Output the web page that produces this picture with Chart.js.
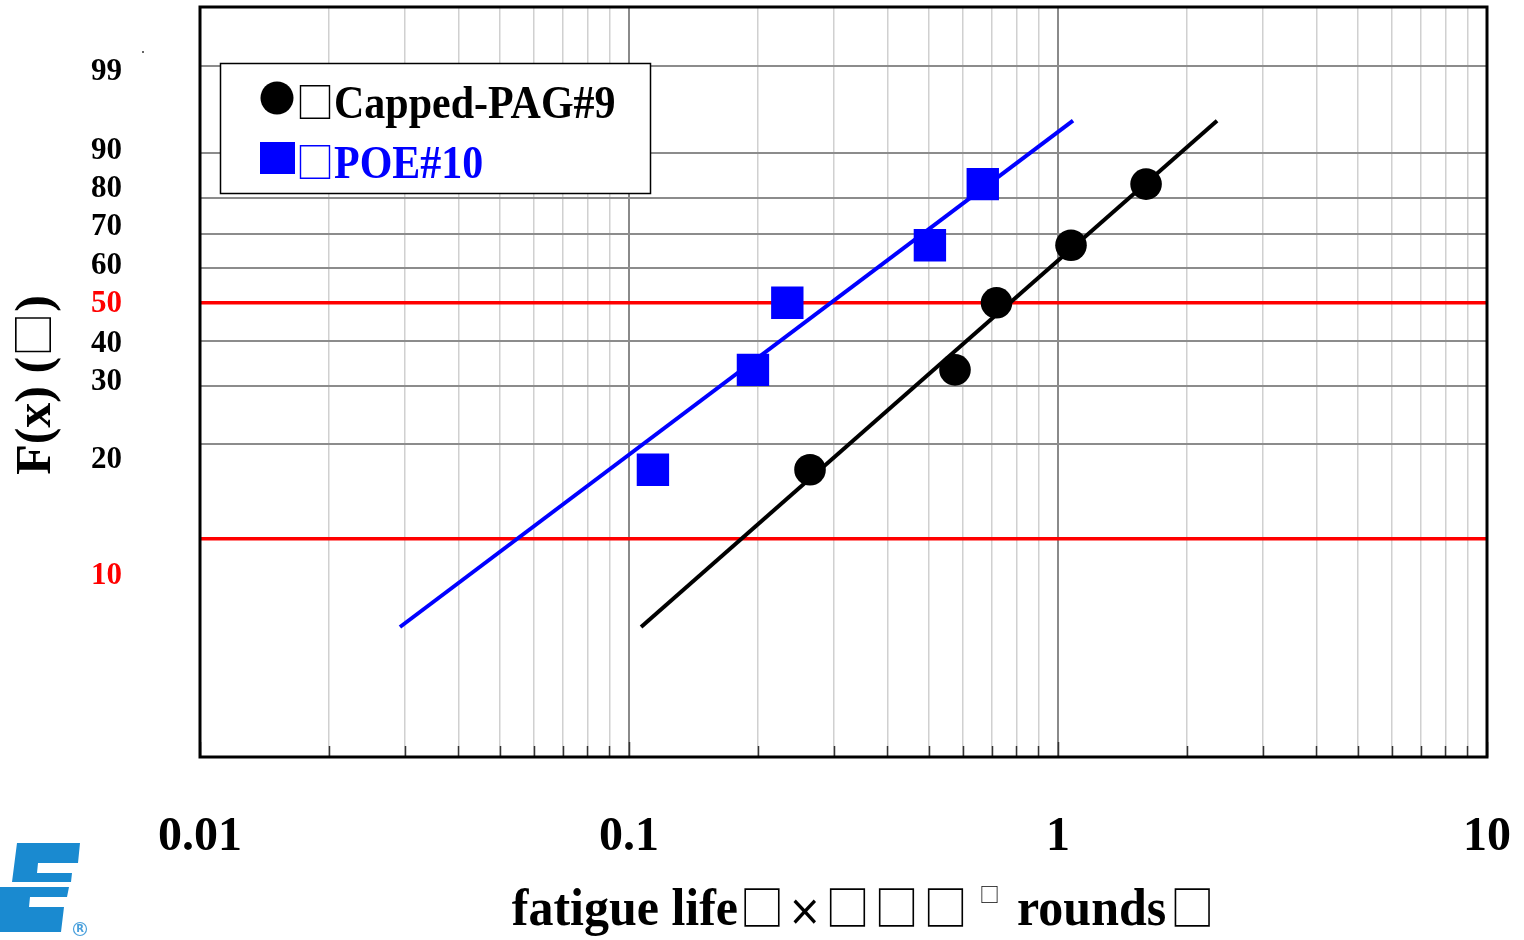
<!DOCTYPE html>
<html><head><meta charset="utf-8">
<script src="https://cdn.jsdelivr.net/npm/chart.js@4.4.0/dist/chart.umd.min.js"></script>
<style>html,body{margin:0;padding:0;background:#fff;}#wrap{width:1524px;height:940px;position:relative;}</style>
</head><body><div id="wrap"><canvas id="c" width="1524" height="940"></canvas></div>
<script>
// ---------- data ----------
const seriesNames = ['Capped-PAG#9', 'POE#10'];
const pagLife = [0.2642, 0.5753, 0.7189, 1.0723, 1.6043];   // fatigue life
const poeLife = [0.1137, 0.1945, 0.2339, 0.5028, 0.6678];
const failurePct = [16.67, 33.33, 50, 66.67, 83.33];         // F(x) %
const pagFitLife = [0.1067, 2.348];
const poeFitLife = [0.02925, 1.084];
const fitPct = [5.05, 94.9];
const yTickPct = [99, 90, 80, 70, 60, 50, 40, 30, 20, 10];
const yTickLabels = ['99', '90', '80', '70', '60', '50', '40', '30', '20', '10'];
const redPct = [50, 10];
const xDecades = [0.01, 0.1, 1, 10];
const xTickLabels = ['0.01', '0.1', '1', '10'];
const xTitleParts = ['fatigue life', '□', '×', '□', '□', '□', '□', ' rounds', '□'];
const yTitleParts = ['F(x) (', '□', ')'];

// ---------- layout constants ----------
const yLabelW = [1.48, 0.848, 0.544, 0.24, -0.072, -0.376, -0.696, -1.0, -1.62, -2.552];
const SERIF = "'Liberation Serif','Times New Roman',serif";
const BOXF = "'Noto Sans CJK SC','DejaVu Sans',sans-serif";

const wb = p => Math.log(-Math.log(1 - p / 100));
const isDecade = v => Math.abs(Math.log10(v) - Math.round(Math.log10(v))) < 1e-9;
const noPad = s => { s.paddingTop = 0; s.paddingBottom = 0; s.paddingLeft = 0; s.paddingRight = 0; };

const xTickVals = [];
xDecades.forEach((d, i) => {
  if (i < xDecades.length - 1) { for (let k = 1; k <= 9; k++) xTickVals.push(+(d * k).toPrecision(6)); }
  else xTickVals.push(d);
});

const framePlugin = {
  id: 'frame',
  afterDatasetsDraw(chart) {
    const {ctx, chartArea: a, scales} = chart;
    ctx.save();
    ctx.strokeStyle = '#333';
    ctx.lineWidth = 1.5;
    xTickVals.forEach(v => {
      const px = Math.round(scales.x.getPixelForValue(v)) + 0.5;
      const len = isDecade(v) ? 15 : 11;
      ctx.beginPath(); ctx.moveTo(px, a.bottom); ctx.lineTo(px, a.bottom - len); ctx.stroke();
    });
    ctx.strokeStyle = '#000';
    ctx.lineWidth = 3;
    ctx.strokeRect(a.left, a.top, a.right - a.left, a.bottom - a.top);
    ctx.restore();
  }
};

function drawRich(ctx, parts, x, y, sx, sy) {
  let cx = x;
  parts.forEach(p => {
    ctx.font = p.font;
    ctx.save();
    ctx.translate(cx * (sx || 1), y + (p.dy || 0));
    ctx.scale(sx || 1, sy || 1);
    ctx.fillText(p.t, 0, 0);
    ctx.restore();
    cx += ctx.measureText(p.t).width + (p.gap || 0);
  });
  return cx;
}
function richWidth(ctx, parts) {
  let w = 0;
  parts.forEach(p => { ctx.font = p.font; w += ctx.measureText(p.t).width + (p.gap || 0); });
  return w;
}

const overlayPlugin = {
  id: 'overlay',
  afterDraw(chart) {
    const {ctx} = chart;
    ctx.save();
    // legend
    ctx.fillStyle = '#fff';
    ctx.fillRect(220, 63, 430, 130);
    ctx.strokeStyle = '#000';
    ctx.lineWidth = 1.5;
    ctx.strokeRect(220.5, 63.5, 430, 130);
    const ds = chart.data.datasets;
    const rows = [{y: 98, base: 118}, {y: 158, base: 178}];
    ctx.textBaseline = 'alphabetic';
    ctx.textAlign = 'left';
    [0, 1].forEach(i => {
      const d = ds[i];
      ctx.fillStyle = d.backgroundColor;
      if (d.pointStyle === 'circle') {
        ctx.beginPath(); ctx.arc(277, rows[i].y, 16.5, 0, Math.PI * 2); ctx.fill();
      } else {
        ctx.fillRect(260, rows[i].y - 16, 35, 32);
      }
      drawRich(ctx, [
        {t: '□', font: '38px ' + BOXF, gap: 0},
        {t: d.label, font: 'bold 42px ' + SERIF}
      ], 296, rows[i].base, 1, 1.1);
    });
    // x title
    ctx.fillStyle = '#000';
    const big = 'bold 50px ' + SERIF, box = '44px ' + BOXF, sup = '20px ' + BOXF, tim = '40px ' + "'DejaVu Sans',sans-serif";
    const parts = [
      {t: xTitleParts[0], font: big, gap: 2},
      {t: xTitleParts[1], font: box, gap: 4},
      {t: xTitleParts[2], font: tim, gap: 4},
      {t: xTitleParts[3], font: box, gap: 5},
      {t: xTitleParts[4], font: box, gap: 5},
      {t: xTitleParts[5], font: box, gap: 12},
      {t: xTitleParts[6], font: sup, dy: -23, gap: 5},
      {t: xTitleParts[7], font: big, gap: 4},
      {t: xTitleParts[8], font: box}
    ];
    const w = richWidth(ctx, parts);
    drawRich(ctx, parts, 863 - w / 2, 925, 1, 1.05);
    // y title (rotated)
    ctx.save();
    ctx.translate(50, 385);
    ctx.rotate(-Math.PI / 2);
    const yParts = [
      {t: yTitleParts[0], font: 'bold 50px ' + SERIF},
      {t: yTitleParts[1], font: '44px ' + BOXF, gap: 1},
      {t: yTitleParts[2], font: 'bold 50px ' + SERIF}
    ];
    const yw = richWidth(ctx, yParts);
    drawRich(ctx, yParts, -yw / 2, 0, 1, 1);
    ctx.restore();
    // logo
    ctx.fillStyle = '#1a8ad0';
    ctx.beginPath();
    ctx.moveTo(17, 843); ctx.lineTo(80, 843); ctx.lineTo(78, 863); ctx.lineTo(38, 863);
    ctx.lineTo(37, 873); ctx.lineTo(72, 873); ctx.lineTo(71, 882); ctx.lineTo(12, 882); ctx.closePath(); ctx.fill();
    ctx.beginPath();
    ctx.moveTo(3, 887); ctx.lineTo(69, 887); ctx.lineTo(67, 897); ctx.lineTo(30, 897);
    ctx.lineTo(29, 907); ctx.lineTo(64, 907); ctx.lineTo(61, 932); ctx.lineTo(0, 932); ctx.lineTo(0, 887); ctx.closePath(); ctx.fill();
    ctx.strokeStyle = '#4aa0dc'; ctx.lineWidth = 1.2;
    ctx.beginPath(); ctx.arc(80, 929, 6.5, 0, Math.PI * 2); ctx.stroke();
    ctx.fillStyle = '#4aa0dc'; ctx.font = 'bold 10px ' + "'DejaVu Sans',sans-serif";
    ctx.textAlign = 'center'; ctx.textBaseline = 'middle';
    ctx.fillText('R', 80, 929.5);
    ctx.fillStyle = '#666';
    ctx.fillRect(142, 51, 2, 2);
    ctx.restore();
  }
};

const chart = new Chart(document.getElementById('c'), {
  type: 'scatter',
  data: {
    datasets: [
      {label: seriesNames[0], data: pagLife.map((x, i) => ({x, y: wb(failurePct[i])})),
       pointStyle: 'circle', pointRadius: 15.8, backgroundColor: '#000000', borderColor: '#000000', borderWidth: 0, order: 1},
      {label: seriesNames[1], data: poeLife.map((x, i) => ({x, y: wb(failurePct[i])})),
       pointStyle: 'rect', pointRadius: 22.9, backgroundColor: '#0000ff', borderColor: '#0000ff', borderWidth: 0, order: 1},
      {type: 'line', label: 'fit1', data: pagFitLife.map((x, i) => ({x, y: wb(fitPct[i])})),
       borderColor: '#000000', borderWidth: 4, pointRadius: 0, fill: false, tension: 0, order: 2},
      {type: 'line', label: 'fit2', data: poeFitLife.map((x, i) => ({x, y: wb(fitPct[i])})),
       borderColor: '#0000ff', borderWidth: 4, pointRadius: 0, fill: false, tension: 0, order: 2}
    ]
  },
  options: {
    responsive: false, animation: false, devicePixelRatio: 1,
    layout: {autoPadding: false, padding: {top: 7, right: 37, left: 0, bottom: 0}},
    plugins: {legend: {display: false}, tooltip: {enabled: false}},
    scales: {
      x: {
        type: 'logarithmic', min: 0.01, max: 10, position: 'bottom',
        afterBuildTicks: s => { s.ticks = xTickVals.map(v => ({value: v, major: isDecade(v)})); },
        afterFit: s => { s.height = 183; noPad(s); },
        grid: {
          drawTicks: false,
          color: c => (c.tick && isDecade(c.tick.value)) ? '#8a8a8a' : '#d0d0d0',
          lineWidth: c => (c.tick && isDecade(c.tick.value)) ? 2 : 1.5
        },
        border: {display: false},
        ticks: {
          autoSkip: false, maxRotation: 0, minRotation: 0, padding: 52,
          callback: v => { const i = xDecades.findIndex(d => Math.abs(d - v) < 1e-9 * Math.max(1, d)); return i >= 0 ? xTickLabels[i] : ''; },
          font: {family: SERIF, weight: 'bold', size: 48}, color: '#000'
        }
      },
      y: {
        type: 'linear', min: -4, max: 2, position: 'left', weight: 0,
        afterBuildTicks: s => { s.ticks = yTickPct.map(p => ({value: wb(p)})); },
        afterFit: s => { s.width = 0; noPad(s); },
        ticks: {display: false},
        grid: {
          drawTicks: false,
          color: c => redPct.includes(yTickPct[c.index]) ? '#ff0000' : '#8c8c8c',
          lineWidth: c => redPct.includes(yTickPct[c.index]) ? 3.5 : 2
        },
        border: {display: false}
      },
      yl: {
        type: 'linear', min: -4, max: 2, position: 'left', weight: 1,
        afterBuildTicks: s => { s.ticks = yLabelW.map(v => ({value: v})); },
        afterFit: s => { s.width = 200; noPad(s); },
        grid: {display: false, drawTicks: false},
        border: {display: false},
        ticks: {
          autoSkip: false, padding: 78,
          callback: (v, i) => yTickLabels[i],
          color: c => redPct.includes(yTickPct[c.index]) ? '#ff0000' : '#000000',
          font: {family: SERIF, weight: 'bold', size: 31}
        }
      }
    }
  },
  plugins: [framePlugin, overlayPlugin]
});
</script></body></html>
